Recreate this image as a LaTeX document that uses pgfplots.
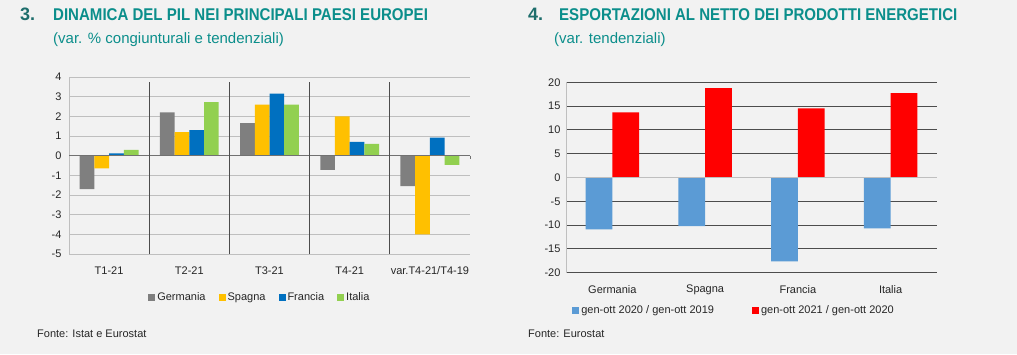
\documentclass[border=0pt]{standalone}
\usepackage{pgfplots}
\pgfplotsset{compat=1.18}
\usepackage{fontspec}
\setmainfont{Liberation Sans}
\definecolor{bg}{HTML}{F2F2F2}
\definecolor{ttl}{HTML}{0B8E8B}
\definecolor{num}{HTML}{1E6E6C}
\definecolor{cGer}{HTML}{7F7F7F}
\definecolor{cSpa}{HTML}{FFC000}
\definecolor{cFra}{HTML}{0070C0}
\definecolor{cIta}{HTML}{92D050}
\definecolor{cBlu}{HTML}{5B9BD5}
\definecolor{cRed}{HTML}{FF0000}
\definecolor{gridl}{HTML}{BFBFBF}
\definecolor{gridd}{HTML}{4D4D4D}
\definecolor{txt}{HTML}{262626}
\newcommand{\fs}[1]{\fontsize{#1}{#1}\selectfont}
\begin{document}
\begin{tikzpicture}[x=1pt,y=1pt]
\fill[bg] (0,0) rectangle (1017,354);
% titles
\node[anchor=base west,inner sep=0,text=num] at (20,333.3) {\fs{18}\bfseries 3.};
\node[anchor=base west,inner sep=0,text=ttl] at (53,333.3) {\scalebox{0.885}[1]{\fs{17}\bfseries DINAMICA DEL PIL NEI PRINCIPALI PAESI EUROPEI}};
\node[anchor=base west,inner sep=0,text=ttl] at (53,310.5) {\fs{15}(var. \% congiunturali e tendenziali)};
\node[anchor=base west,inner sep=0,text=num] at (528,333.3) {\fs{18}\bfseries 4.};
\node[anchor=base west,inner sep=0,text=ttl] at (559,333.3) {\scalebox{0.885}[1]{\fs{17}\bfseries ESPORTAZIONI AL NETTO DEI PRODOTTI ENERGETICI}};
\node[anchor=base west,inner sep=0,text=ttl] at (554,310.5) {\fs{15}(var. tendenziali)};
\node[anchor=west,inner sep=0,text=txt] at (37,20) {\fs{11}Fonte: Istat e Eurostat};
\node[anchor=west,inner sep=0,text=txt] at (528,20) {\fs{11}Fonte: Eurostat};

% left chart
\begin{axis}[
  at={(69pt,100pt)}, anchor=south west,
  scale only axis, width=401pt, height=177pt,
  ymin=-5, ymax=4, ytick={-5,-4,...,4},
  xmin=-0.5, xmax=4.5,
  xtick={0,1,2,3,4},
  xticklabels={T1-21,T2-21,T3-21,T4-21,var.T4-21/T4-19},
  /pgf/number format/assume math mode=true,
  axis line style={draw=none},
  major tick length=0pt,
  ymajorgrids, major grid style={gridl, line width=0.9pt},
  ybar=0pt, bar width=14.7pt,
  ticklabel style={font=\fs{11}, text=txt},
  xticklabel style={yshift=-9pt},
  yticklabel style={xshift=-4pt},
  legend style={at={(0.476,-0.243)}, anchor=center, legend columns=4, draw=none, fill=none,
    font=\fs{11}, text=txt,
    /tikz/every even column/.append style={column sep=11pt}},
  legend image code/.code={\fill[#1,draw=none] (0pt,-3.5pt) rectangle (7pt,3.5pt);},
  clip=false,
]
\addplot[fill=cGer,draw=none] coordinates {(0,-1.7) (1,2.2) (2,1.65) (3,-0.72) (4,-1.55)};
\addplot[fill=cSpa,draw=none] coordinates {(0,-0.65) (1,1.2) (2,2.6) (3,2.0) (4,-4.0)};
\addplot[fill=cFra,draw=none] coordinates {(0,0.12) (1,1.3) (2,3.15) (3,0.7) (4,0.92)};
\addplot[fill=cIta,draw=none] coordinates {(0,0.3) (1,2.72) (2,2.6) (3,0.6) (4,-0.47)};
\legend{Germania,Spagna,Francia,Italia}
\draw[gridl,line width=0.9pt] (axis cs:-0.5,-5) -- (axis cs:-0.5,4);
\draw[gridd!80,line width=0.9pt] (axis cs:-0.5,0) -- (axis cs:4.5,0);
\draw[gridd!80,line width=0.9pt] (axis cs:0.5,0) -- (axis cs:0.5,-0.15);
\draw[gridd!80,line width=0.9pt] (axis cs:1.5,0) -- (axis cs:1.5,-0.15);
\draw[gridd!80,line width=0.9pt] (axis cs:2.5,0) -- (axis cs:2.5,-0.15);
\draw[gridd!80,line width=0.9pt] (axis cs:3.5,0) -- (axis cs:3.5,-0.15);
\draw[gridd!80,line width=0.9pt] (axis cs:4.5,0) -- (axis cs:4.5,-0.15);
\draw[gridd,line width=1pt] (axis cs:0.5,-5) -- (axis cs:0.5,3.75);
\draw[gridd,line width=1pt] (axis cs:1.5,-5) -- (axis cs:1.5,3.75);
\draw[gridd,line width=1pt] (axis cs:2.5,-5) -- (axis cs:2.5,3.75);
\draw[gridd,line width=1pt] (axis cs:3.5,-5) -- (axis cs:3.5,3.75);
\end{axis}

% right chart
\begin{axis}[
  at={(566pt,81.3pt)}, anchor=south west,
  scale only axis, width=371pt, height=190.4pt,
  ymin=-20, ymax=20, ytick={-20,-15,...,20},
  xmin=-0.5, xmax=3.5,
  xtick={0,1,2,3},
  xticklabels={Germania,Spagna,Francia,Italia},
  /pgf/number format/assume math mode=true,
  axis line style={draw=none},
  major tick length=0pt,
  ymajorgrids, major grid style={gridd, line width=0.9pt},
  ybar=0pt, bar width=26.7pt,
  ticklabel style={font=\fs{11}, text=txt},
  xticklabel style={yshift=-9pt},
  yticklabel style={xshift=-2pt},
  legend style={at={(0.453,-0.196)}, anchor=center, legend columns=2, draw=none, fill=none,
    font=\fs{11}, text=txt,
    /tikz/every even column/.append style={column sep=36pt}},
  legend image code/.code={\fill[#1,draw=none] (0pt,-3.5pt) rectangle (7pt,3.5pt);},
  clip=false,
]
\addplot[fill=cBlu,draw=none] coordinates {(0,-10.9) (1,-10.2) (2,-17.6) (3,-10.7)};
\addplot[fill=cRed,draw=none] coordinates {(0,13.7) (1,18.8) (2,14.5) (3,17.7)};
\legend{gen-ott 2020 / gen-ott 2019,gen-ott 2021 / gen-ott 2020}
\draw[gridl,line width=0.9pt] (axis cs:-0.5,0) -- (axis cs:3.5,0);
\draw[gridl,line width=0.9pt] (axis cs:-0.5,-20) -- (axis cs:-0.5,20);
\end{axis}
\end{tikzpicture}
\end{document}
